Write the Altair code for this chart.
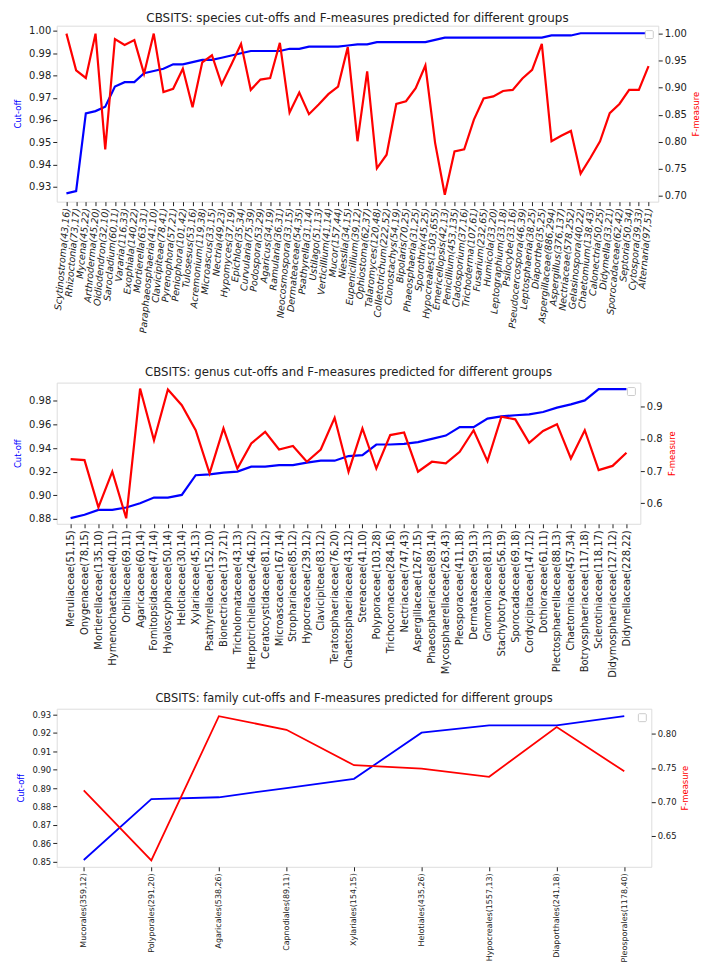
import altair as alt
import pandas as pd

# ---------------- data ----------------
species_names = [
    "Scytinostroma(43,16)", "Rhizoctonia(73,17)", "Mycena(45,22)", "Arthroderma(45,20)",
    "Oidiodendron(32,10)", "Sarocladium(60,11)", "Vararia(116,33)", "Exophiala(140,22)",
    "Mortierella(63,31)", "Paraphaeosphaeria(41,10)", "Clavicipiteae(78,41)", "Pyrenophora(57,21)",
    "Peniophora(101,42)", "Tulosesus(53,16)", "Acremonium(119,38)", "Microascus(33,15)",
    "Nectria(49,23)", "Hypomyces(37,19)", "Epichloe(35,34)", "Curvularia(75,39)",
    "Podospora(53,29)", "Agaricus(34,19)", "Ramularia(36,31)", "Neocosmospora(33,15)",
    "Dermateaceae(54,35)", "Psathyrella(31,14)", "Ustilago(51,13)", "Verticillium(41,14)",
    "Mucor(157,44)", "Niesslia(34,15)", "Eupenicillium(39,12)", "Ophiostoma(62,37)",
    "Talaromyces(120,48)", "Colletotrichum(222,52)", "Clonostachys(54,19)", "Bipolaris(70,25)",
    "Phaeosphaeria(31,25)", "Sporothrix(45,25)", "Hypocreales(1503,655)", "Emericellopsis(42,13)",
    "Penicillium(453,135)", "Cladosporium(37,16)", "Trichoderma(107,61)", "Fusarium(232,65)",
    "Humicola(33,20)", "Leptographium(33,18)", "Psilocybe(33,16)", "Pseudocercospora(46,39)",
    "Leptosphaeria(38,25)", "Diaporthe(35,25)", "Aspergillaceae(886,294)", "Aspergillus(376,137)",
    "Nectriaceae(578,252)", "Gelasinospora(40,22)", "Chaetomium(138,43)", "Calonectria(50,25)",
    "Didymella(33,21)", "Sporocadaceae(62,42)", "Septoria(50,34)", "Cytospora(39,33)",
    "Alternaria(97,51)",
]
species_cutoff = [
    0.927, 0.928, 0.963, 0.964, 0.966, 0.975, 0.977, 0.977, 0.981, 0.982,
    0.983, 0.985, 0.985, 0.986, 0.987, 0.987, 0.988, 0.989, 0.990, 0.991,
    0.991, 0.991, 0.991, 0.992, 0.992, 0.993, 0.993, 0.993, 0.993, 0.9935,
    0.994, 0.994, 0.995, 0.995, 0.995, 0.995, 0.995, 0.995, 0.996, 0.997,
    0.997, 0.997, 0.997, 0.997, 0.997, 0.997, 0.997, 0.997, 0.997, 0.997,
    0.998, 0.998, 0.998, 0.999, 0.999, 0.999, 0.999, 0.999, 0.999, 0.999,
    0.999,
]
species_f = [
    1.00, 0.932, 0.918, 1.00, 0.786, 0.990, 0.979, 0.988, 0.926, 1.00,
    0.892, 0.898, 0.935, 0.864, 0.947, 0.960, 0.906, 0.943, 0.981, 0.896,
    0.915, 0.918, 0.983, 0.854, 0.891, 0.851, 0.869, 0.888, 0.902, 0.975,
    0.801, 0.930, 0.751, 0.776, 0.870, 0.875, 0.899, 0.941, 0.798, 0.702,
    0.782, 0.786, 0.841, 0.880, 0.884, 0.894, 0.896, 0.917, 0.933, 0.981,
    0.801, 0.811, 0.820, 0.741, 0.770, 0.801, 0.853, 0.870, 0.896, 0.896,
    0.940,
]

genus_names = [
    "Meruliaceae(51,15)", "Onygenaceae(78,15)", "Mortierellaceae(135,10)", "Hymenochaetaceae(40,11)",
    "Orbiliaceae(69,11)", "Agaricaceae(60,14)", "Fomitopsidaceae(47,14)", "Hyaloscyphaceae(50,14)",
    "Helotiaceae(30,14)", "Xylariaceae(45,13)", "Psathyrellaceae(152,10)", "Bionectriaceae(137,21)",
    "Tricholomataceae(43,13)", "Herpotrichiellaceae(246,12)", "Ceratocystidaceae(81,12)",
    "Microascaceae(167,14)", "Strophariaceae(85,12)", "Hypocreaceae(239,12)", "Clavicipiteae(83,12)",
    "Teratosphaeriaceae(76,20)", "Chaetosphaeriaceae(43,12)", "Stereaceae(41,10)",
    "Polyporaceae(103,28)", "Trichocomaceae(284,16)", "Nectriaceae(747,43)",
    "Aspergillaceae(1267,15)", "Phaeosphaeriaceae(89,14)", "Mycosphaerellaceae(263,43)",
    "Pleosporaceae(411,18)", "Dermateaceae(59,13)", "Gnomoniaceae(81,13)", "Stachybotryaceae(56,19)",
    "Sporocadaceae(69,18)", "Cordycipitaceae(147,12)", "Dothioraceae(61,11)",
    "Plectosphaerellaceae(88,13)", "Chaetomiaceae(457,34)", "Botryosphaeriaceae(117,18)",
    "Sclerotiniaceae(118,17)", "Didymosphaeriaceae(127,12)", "Didymellaceae(228,22)",
]
genus_cutoff = [
    0.8806, 0.8834, 0.8876, 0.8876, 0.8896, 0.8932, 0.898, 0.898, 0.9003, 0.917,
    0.9177, 0.9192, 0.920, 0.9242, 0.9242, 0.9256, 0.9256, 0.9276, 0.9293, 0.9293,
    0.9332, 0.934, 0.943, 0.943, 0.9435, 0.945, 0.9478, 0.9506, 0.9577, 0.9577,
    0.965, 0.9669, 0.9678, 0.9686, 0.9706, 0.9743, 0.977, 0.9804, 0.990, 0.990,
    0.990,
]
genus_f = [
    0.737, 0.734, 0.587, 0.698, 0.553, 0.957, 0.796, 0.954, 0.905, 0.827,
    0.693, 0.833, 0.708, 0.786, 0.822, 0.767, 0.778, 0.729, 0.767, 0.866,
    0.698, 0.833, 0.708, 0.812, 0.820, 0.698, 0.729, 0.724, 0.760, 0.827,
    0.731, 0.869, 0.861, 0.788, 0.825, 0.846, 0.739, 0.827, 0.703, 0.716,
    0.757,
]

family_names = [
    "Mucorales(359,12)", "Polyporales(291,20)", "Agaricales(538,26)", "Capnodiales(89,11)",
    "Xylariales(154,15)", "Helotiales(435,26)", "Hypocreales(1557,13)", "Diaporthales(241,18)",
    "Pleosporales(1178,40)",
]
family_cutoff = [0.851, 0.884, 0.885, 0.890, 0.895, 0.920, 0.924, 0.924, 0.929]
family_f = [0.717, 0.614, 0.826, 0.806, 0.754, 0.749, 0.737, 0.810, 0.745]

FONT = "DejaVu Sans"


def panel(names, cutoff, fm, title, width, height, pad,
          left_dom, left_vals, left_fmt, right_dom, right_vals, right_fmt,
          xangle, xsize, xstyle, ysize, tsize, lw, toff):
    df = pd.DataFrame({"name": names, "cutoff": cutoff, "fmeasure": fm})
    x = alt.X(
        "name:N", sort=names,
        scale=alt.Scale(type="point", padding=pad),
        axis=alt.Axis(title="", labelAngle=xangle, labelFontSize=xsize,
                      labelFontStyle=xstyle, labelOverlap=False, labelLimit=400,
                      labelColor="#222", tickColor="#222", tickSize=4,
                      labelPadding=2, domain=False, grid=False, labelFont=FONT),
    )
    base = alt.Chart(df)
    blue = base.mark_line(color="#0000ff", strokeWidth=lw).encode(
        x=x,
        y=alt.Y("cutoff:Q",
                scale=alt.Scale(domain=left_dom, nice=False, zero=False),
                axis=alt.Axis(title="Cut-off", titleColor="#0000ff", titleFontSize=8.5,
                              titleFontWeight="normal", values=left_vals, format=left_fmt,
                              orient="left", grid=False, domain=False, labelFontSize=ysize,
                              labelColor="#222", tickColor="#222", tickSize=4,
                              titlePadding=6, labelFont=FONT, titleFont=FONT)),
    )
    red = base.mark_line(color="#ff0000", strokeWidth=lw).encode(
        x=x,
        y=alt.Y("fmeasure:Q",
                scale=alt.Scale(domain=right_dom, nice=False, zero=False),
                axis=alt.Axis(title="F-measure", titleColor="#ff0000", titleFontSize=8.5,
                              titleFontWeight="normal", values=right_vals, format=right_fmt,
                              orient="right", grid=False, domain=False, labelFontSize=ysize,
                              labelColor="#222", tickColor="#222", tickSize=4,
                              titleAngle=270, titleBaseline="top", titlePadding=5,
                              labelFont=FONT, titleFont=FONT)),
    )
    box = alt.Chart(pd.DataFrame({"k": [0]})).mark_rect(
        fill="white", stroke="#cccccc", strokeWidth=1, cornerRadius=1
    ).encode(
        x=alt.value(width - 13), x2=alt.value(width - 5),
        y=alt.value(5), y2=alt.value(13),
    )
    return alt.layer(blue, red, box).resolve_scale(y="independent").properties(
        width=width, height=height,
        title=alt.TitleParams(title, fontSize=tsize, fontWeight="normal", font=FONT,
                              color="#222", offset=toff, frame="group", anchor="middle"),
    )


p1 = panel(species_names, species_cutoff, species_f,
           "CBSITS: species cut-offs and F-measures predicted for different groups",
           605, 177, 2.88,
           [0.9233, 1.0024], [0.93, 0.94, 0.95, 0.96, 0.97, 0.98, 0.99, 1.00], ".2f",
           [0.6893, 1.0147], [0.70, 0.75, 0.80, 0.85, 0.90, 0.95, 1.00], ".2f",
           -85, 9.5, "italic", 10, 12, 2.2, 1)

p2 = panel(genus_names, genus_cutoff, genus_f,
           "CBSITS: genus cut-offs and F-measures predicted for different groups",
           587, 142, 2.0,
           [0.8758, 0.9955], [0.88, 0.90, 0.92, 0.94, 0.96, 0.98], ".2f",
           [0.5358, 0.9754], [0.6, 0.7, 0.8, 0.9], ".1f",
           -90, 10, "normal", 10, 11.8, 2.2, 4)

p3 = panel(family_names, family_cutoff, family_f,
           "CBSITS: family cut-offs and F-measures predicted for different groups",
           598, 159, 0.4,
           [0.8473, 0.933], [0.85, 0.86, 0.87, 0.88, 0.89, 0.90, 0.91, 0.92, 0.93], ".2f",
           [0.6047, 0.837], [0.65, 0.70, 0.75, 0.80], ".2f",
           -90, 8, "normal", 8.5, 11.5, 1.8, 4)

top = alt.vconcat(p1, p2, spacing=32)
chart = alt.vconcat(top, p3, spacing=14).properties(
    padding={"left": 5, "top": 0, "right": 0, "bottom": 0}
).configure_view(stroke="#333333", strokeWidth=1).configure(font=FONT)

chart.save("out.html", embed_options={"renderer": "svg", "actions": False})
